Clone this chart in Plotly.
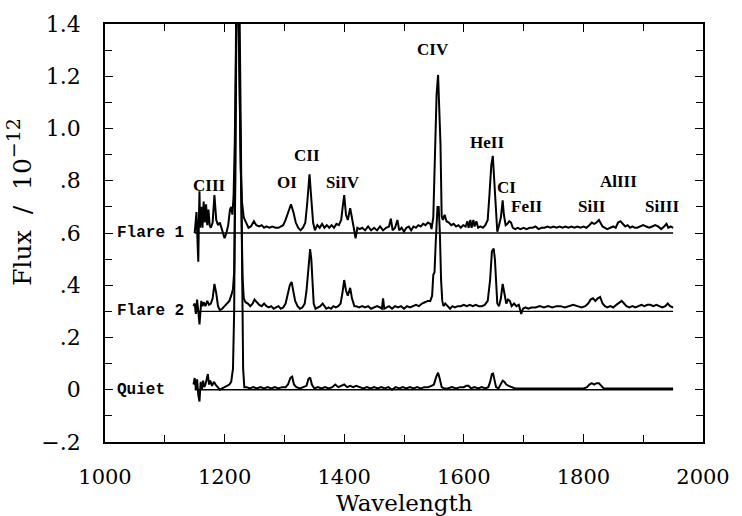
import plotly.graph_objects as go

# ---------------- data ----------------
# Offsets of the three spectra (in units of 1e-12)
offset_flare1 = 0.6
offset_flare2 = 0.3
offset_quiet = 0.0

baseline_range = [1150, 1950]

wl_flare1 = [1150, 1153, 1155, 1156, 1157, 1158, 1159, 1161, 1163, 1165, 1167, 1169, 1171, 1173, 1175, 1177,
             1180, 1183, 1186, 1189, 1192, 1196, 1200, 1203, 1206, 1209, 1211, 1213, 1215, 1217, 1219, 1221,
             1223, 1225, 1227, 1229, 1232, 1236, 1240, 1244, 1249, 1253, 1258, 1262, 1266, 1270, 1275, 1280,
             1285, 1290, 1294, 1298, 1302, 1306, 1311, 1315, 1319, 1323, 1327, 1331, 1335, 1338, 1342, 1345,
             1348, 1351, 1355, 1359, 1363, 1367, 1371, 1375, 1379, 1383, 1387, 1391, 1395, 1398, 1400, 1403,
             1406, 1410, 1413, 1416, 1419, 1422, 1426, 1430, 1435, 1440, 1445, 1450, 1455, 1460, 1465, 1470,
             1475, 1478, 1481, 1485, 1489, 1492, 1496, 1500, 1504, 1508, 1512, 1516, 1520, 1524, 1528, 1532,
             1536, 1540, 1544, 1546, 1549, 1552, 1554.5, 1557, 1559, 1561, 1563, 1565, 1568, 1571, 1575, 1579,
             1583, 1587, 1591, 1595, 1599, 1603, 1606, 1608, 1611, 1613, 1616, 1618, 1621, 1624, 1628, 1632,
             1636, 1640, 1643, 1646, 1648.5, 1651, 1654, 1656, 1659, 1662, 1665, 1667, 1670, 1673, 1676, 1679,
             1682, 1686, 1690, 1695, 1700, 1705, 1710, 1715, 1720, 1725, 1730, 1735, 1740, 1745, 1750, 1755,
             1760, 1765, 1770, 1775, 1780, 1785, 1790, 1795, 1800, 1805, 1810, 1814, 1818, 1822, 1826, 1829,
             1832, 1836, 1840, 1845, 1850, 1854, 1858, 1862, 1866, 1870, 1874, 1878, 1882, 1886, 1890, 1895,
             1900, 1905, 1910, 1915, 1920, 1925, 1930, 1935, 1939, 1942, 1946, 1950]
flux_flare1 = [0.00, 0.08, -0.05, -0.11, 0.05, 0.16, 0.02, 0.10, 0.02, 0.12, 0.04, 0.11, 0.03, 0.09, 0.03, 0.02,
               0.04, 0.145, 0.05, 0.03, 0.04, 0.01, -0.02, 0.00, 0.03, 0.09, 0.10, 0.07, 0.14, 0.35, 0.90, 1.00,
               0.95, 0.55, 0.25, 0.12, 0.06, 0.04, 0.02, 0.025, 0.045, 0.03, 0.025, 0.03, 0.02, 0.025, 0.02, 0.025,
               0.02, 0.02, 0.025, 0.03, 0.05, 0.08, 0.11, 0.08, 0.04, 0.02, 0.01, 0.02, 0.04, 0.11, 0.225, 0.13,
               0.04, 0.01, 0.03, 0.02, 0.035, 0.02, 0.03, 0.02, 0.03, 0.02, 0.035, 0.03, 0.05, 0.11, 0.145, 0.07,
               0.05, 0.095, 0.05, 0.02, -0.02, 0.02, 0.015, 0.02, 0.01, 0.025, 0.01, 0.02, 0.01, 0.025, 0.01, 0.02,
               0.025, 0.055, 0.01, 0.02, 0.05, 0.01, 0.02, 0.005, 0.02, 0.025, 0.01, 0.025, 0.02, 0.03, 0.025, 0.035,
               0.03, 0.04, 0.035, 0.015, 0.06, 0.34, 0.53, 0.605, 0.50, 0.34, 0.065, 0.05, 0.07, 0.045, 0.04, 0.03,
               0.035, 0.025, 0.03, 0.02, 0.03, 0.025, 0.045, 0.02, 0.05, 0.02, 0.05, 0.025, 0.045, 0.02, 0.025, 0.02,
               0.03, 0.05, 0.15, 0.26, 0.295, 0.18, 0.04, 0.005, 0.03, 0.06, 0.125, 0.07, 0.03, 0.035, 0.045, 0.04,
               0.02, 0.015, 0.02, 0.015, 0.02, 0.015, 0.02, 0.02, 0.025, 0.015, 0.02, 0.02, 0.025, 0.02, 0.025, 0.02,
               0.025, 0.02, 0.025, 0.02, 0.025, 0.02, 0.025, 0.02, 0.025, 0.02, 0.03, 0.04, 0.035, 0.04, 0.05, 0.04,
               0.025, 0.02, 0.015, 0.02, 0.025, 0.02, 0.04, 0.045, 0.035, 0.025, 0.03, 0.02, 0.025, 0.02, 0.02, 0.025,
               0.03, 0.025, 0.02, 0.025, 0.03, 0.025, 0.015, 0.025, 0.035, 0.02, 0.025, 0.02]

wl_flare2 = [1148, 1150, 1152, 1154, 1156, 1158, 1159, 1161, 1163, 1165, 1168, 1171, 1174, 1177, 1180, 1183,
             1186, 1189, 1192, 1196, 1200, 1204, 1208, 1211, 1214, 1216, 1218, 1220, 1223, 1226, 1228, 1230,
             1232, 1235, 1239, 1243, 1247, 1250, 1254, 1258, 1262, 1266, 1270, 1274, 1278, 1282, 1286, 1290,
             1294, 1298, 1302, 1306, 1309, 1312, 1315, 1318, 1322, 1326, 1330, 1334, 1337, 1340, 1343, 1345,
             1347, 1349, 1352, 1356, 1360, 1364, 1367, 1370, 1374, 1378, 1382, 1386, 1390, 1394, 1397, 1400,
             1403, 1406, 1410, 1413, 1417, 1420, 1425, 1430, 1435, 1440, 1445, 1450, 1455, 1460, 1463, 1465,
             1467, 1471, 1475, 1480, 1485, 1490, 1495, 1500, 1505, 1510, 1515, 1520, 1525, 1530, 1535, 1540,
             1544, 1547, 1549, 1551, 1553, 1556, 1558, 1560, 1562, 1564, 1566, 1569, 1573, 1577, 1581, 1585,
             1590, 1595, 1600, 1605, 1610, 1615, 1620, 1625, 1630, 1635, 1640, 1644, 1647, 1650, 1652, 1654,
             1656, 1659, 1662, 1665, 1668, 1671, 1674, 1677, 1680, 1684, 1688, 1692, 1696, 1699, 1703, 1708,
             1713, 1720, 1727, 1734, 1741, 1748, 1755, 1762, 1769, 1776, 1783, 1790, 1797, 1803, 1808, 1812,
             1816, 1820, 1824, 1828, 1832, 1836, 1840, 1845, 1850, 1855, 1860, 1864, 1868, 1872, 1877, 1882,
             1887, 1892, 1897, 1902, 1907, 1912, 1917, 1922, 1927, 1932, 1937, 1941, 1945, 1950]
flux_flare2 = [0.02, 0.03, -0.01, 0.045, 0.00, -0.05, -0.02, 0.04, 0.02, 0.035, 0.02, 0.04, 0.025, 0.03, 0.05, 0.105,
               0.07, 0.02, 0.005, 0.01, 0.02, 0.03, 0.04, 0.06, 0.085, 0.15, 0.50, 1.20, 1.20, 0.70, 0.30, 0.13,
               0.05, 0.035, 0.03, 0.02, 0.03, 0.045, 0.035, 0.025, 0.02, 0.03, 0.02, 0.015, 0.02, 0.01, 0.015, 0.02,
               0.01, 0.015, 0.03, 0.07, 0.10, 0.113, 0.08, 0.04, 0.02, 0.01, 0.015, 0.03, 0.08, 0.17, 0.238, 0.20,
               0.09, 0.03, 0.01, 0.015, 0.02, 0.03, 0.02, 0.01, 0.015, 0.01, 0.02, 0.015, 0.02, 0.03, 0.07, 0.12,
               0.08, 0.06, 0.09, 0.05, 0.02, 0.02, 0.015, 0.02, 0.015, 0.02, 0.01, 0.015, 0.02, 0.015, 0.01, 0.05,
               0.01, 0.015, 0.02, 0.01, 0.02, 0.015, 0.02, 0.01, 0.02, 0.015, 0.02, 0.025, 0.02, 0.03, 0.035, 0.04,
               0.04, 0.06, 0.14, 0.15, 0.26, 0.40, 0.40, 0.30, 0.12, 0.04, 0.02, 0.03, 0.02, 0.01, 0.02, 0.015,
               0.02, 0.02, 0.025, 0.02, 0.025, 0.02, 0.025, 0.02, 0.02, 0.025, 0.04, 0.12, 0.23, 0.24, 0.20, 0.10,
               0.03, 0.02, 0.05, 0.105, 0.07, 0.03, 0.045, 0.04, 0.02, 0.03, 0.02, 0.025, -0.01, 0.01, 0.015, 0.01,
               0.015, 0.015, 0.02, 0.015, 0.02, 0.015, 0.02, 0.02, 0.015, 0.02, 0.025, 0.02, 0.015, 0.02, 0.03, 0.045,
               0.05, 0.04, 0.05, 0.055, 0.03, 0.02, 0.015, 0.02, 0.015, 0.025, 0.035, 0.04, 0.03, 0.02, 0.015, 0.02,
               0.015, 0.02, 0.025, 0.02, 0.025, 0.025, 0.02, 0.025, 0.02, 0.015, 0.02, 0.03, 0.02, 0.015]

wl_quiet = [1148, 1150, 1152, 1154, 1156, 1158, 1160, 1162, 1164, 1166, 1168, 1170, 1172, 1174, 1176, 1179,
            1182, 1185, 1188, 1192, 1196, 1200, 1204, 1208, 1211, 1214, 1216, 1218, 1220, 1224, 1227, 1229,
            1231, 1233, 1237, 1242, 1248, 1254, 1260, 1266, 1272, 1278, 1284, 1290, 1296, 1302, 1306, 1310,
            1313, 1316, 1320, 1326, 1332, 1337, 1340, 1343, 1346, 1350, 1356, 1362, 1368, 1374, 1380, 1385,
            1390, 1395, 1400, 1405, 1410, 1415, 1420, 1426, 1432, 1438, 1444, 1450, 1456, 1462, 1468, 1474,
            1480, 1486, 1492, 1498, 1504, 1510, 1516, 1522, 1528, 1534, 1540, 1546, 1550, 1554, 1557, 1560,
            1563, 1567, 1573, 1580, 1587, 1594, 1600, 1604, 1608, 1612, 1618, 1624, 1630, 1636, 1641, 1644,
            1647, 1649, 1651, 1654, 1658, 1662, 1665, 1668, 1671, 1675, 1680, 1686, 1692, 1700, 1710, 1720,
            1730, 1740, 1750, 1760, 1770, 1780, 1790, 1800, 1806, 1810, 1814, 1818, 1822, 1826, 1830, 1834,
            1840, 1850, 1860, 1870, 1880, 1890, 1900, 1910, 1920, 1930, 1940, 1950]
flux_quiet = [0.02, 0.045, 0.00, 0.04, -0.02, -0.045, 0.03, 0.00, 0.035, 0.01, 0.02, 0.04, 0.06, 0.02, 0.035, 0.015,
              0.03, 0.02, 0.01, 0.00, 0.005, 0.01, 0.015, 0.02, 0.03, 0.08, 0.30, 0.90, 1.70, 1.70, 1.00, 0.40,
              0.08, 0.01, 0.01, 0.005, 0.01, 0.005, 0.01, 0.005, 0.01, 0.005, 0.01, 0.005, 0.01, 0.01, 0.02, 0.045,
              0.05, 0.02, 0.01, 0.005, 0.01, 0.015, 0.04, 0.047, 0.02, 0.005, 0.01, 0.005, 0.01, 0.005, 0.01, 0.02,
              0.01, 0.015, 0.02, 0.01, 0.015, 0.01, 0.015, 0.01, 0.005, 0.01, 0.005, 0.01, 0.005, 0.01, 0.005, 0.01,
              0.00, 0.01, 0.005, 0.01, 0.005, 0.01, 0.005, 0.01, 0.005, 0.01, 0.01, 0.015, 0.02, 0.05, 0.065, 0.04,
              0.01, 0.005, 0.005, 0.01, 0.005, 0.01, 0.01, 0.015, 0.015, 0.005, 0.01, 0.005, 0.01, 0.005, 0.01, 0.03,
              0.06, 0.062, 0.04, 0.01, 0.005, 0.02, 0.035, 0.03, 0.02, 0.015, 0.01, 0.005, 0.005, 0.005, 0.005, 0.005,
              0.005, 0.005, 0.005, 0.005, 0.005, 0.005, 0.005, 0.005, 0.01, 0.02, 0.025, 0.02, 0.025, 0.025, 0.015, 0.005,
              0.005, 0.005, 0.005, 0.005, 0.005, 0.005, 0.005, 0.005, 0.005, 0.005, 0.005, 0.005]

series_names = ["Flare 1", "Flare 2", "Quiet"]

line_ids = ["CIII", "OI", "CII", "SiIV", "CIV", "HeII", "CI", "FeII", "SiII", "AlIII", "SiIII"]

x_tick_vals = [1000, 1200, 1400, 1600, 1800, 2000]
x_tick_text = ["1000", "1200", "1400", "1600", "1800", "2000"]
y_tick_vals = [-0.2, 0, 0.2, 0.4, 0.6, 0.8, 1.0, 1.2, 1.4]
y_tick_text = ["\u2212.2", "0", ".2", ".4", ".6", ".8", "1.0", "1.2", "1.4"]

# ---------------- layout-only positions ----------------
line_label_pos = [(1174, 0.783), (1304, 0.794), (1337, 0.895), (1398, 0.794), (1548, 1.302),
                  (1638, 0.948), (1671, 0.776), (1705, 0.70), (1814, 0.70), (1858, 0.798), (1932, 0.70)]
series_label_x = 1017

AXIS_FONT = "DejaVu Serif"

fig = go.Figure()

spectra = [(wl_flare1, flux_flare1, offset_flare1),
           (wl_flare2, flux_flare2, offset_flare2),
           (wl_quiet, flux_quiet, offset_quiet)]

for (wl, fl, off), name in zip(spectra, series_names):
    # baseline
    fig.add_trace(go.Scatter(x=baseline_range, y=[off, off], mode="lines",
                             line=dict(color="black", width=1.3), showlegend=False, hoverinfo="skip"))
    # spectrum
    fig.add_trace(go.Scatter(x=wl, y=[v + off for v in fl], mode="lines", name=name,
                             line=dict(color="black", width=2.0), showlegend=False))
    fig.add_annotation(x=series_label_x, y=off, xref="x", yref="y", text="<b>%s</b>" % name,
                       showarrow=False, xanchor="left", yanchor="middle",
                       font=dict(family="Liberation Mono", size=16, color="black"))

for lid, (lx, ly) in zip(line_ids, line_label_pos):
    fig.add_annotation(x=lx, y=ly, xref="x", yref="y", text="<b>%s</b>" % lid, showarrow=False,
                       xanchor="center", yanchor="middle",
                       font=dict(family="Liberation Serif", size=17, color="black"))

# axis titles as annotations for precise placement
fig.add_annotation(x=0.5, y=-0.147, xref="paper", yref="paper", text="Wavelength", showarrow=False,
                   xanchor="center", yanchor="middle", font=dict(family=AXIS_FONT, size=23, color="black"))
fig.add_annotation(x=-0.142, y=0.575, xref="paper", yref="paper",
                   text="Flux&nbsp;&nbsp;/&nbsp;&nbsp;10<sup><span style='font-size:19px'>\u221212</span></sup>",
                   showarrow=False, textangle=-90, xanchor="center", yanchor="middle",
                   font=dict(family=AXIS_FONT, size=25, color="black"))

axis_common = dict(showline=True, linecolor="black", linewidth=1.6, mirror="allticks",
                   ticks="inside", ticklen=8, tickwidth=1.2, tickcolor="black",
                   showgrid=False, zeroline=False)

fig.update_xaxes(range=[1000, 2000], tickmode="array", tickvals=x_tick_vals, ticktext=x_tick_text,
                 ticklabelstandoff=15, tickfont=dict(family=AXIS_FONT, size=21, color="black"),
                 minor=dict(dtick=100, ticks="inside", ticklen=7, tickwidth=1.2, tickcolor="black", showgrid=False),
                 **axis_common)
fig.update_yaxes(range=[-0.2, 1.4], tickmode="array", tickvals=y_tick_vals, ticktext=y_tick_text,
                 ticklabelstandoff=18, tickfont=dict(family=AXIS_FONT, size=22, color="black"),
                 minor=dict(dtick=0.1, tick0=0, ticks="inside", ticklen=7, tickwidth=1.2, tickcolor="black", showgrid=False),
                 **axis_common)

fig.update_layout(width=742, height=516, margin=dict(l=105, r=30, t=17, b=74),
                  paper_bgcolor="white", plot_bgcolor="white", showlegend=False)

fig.write_html("out.html")
